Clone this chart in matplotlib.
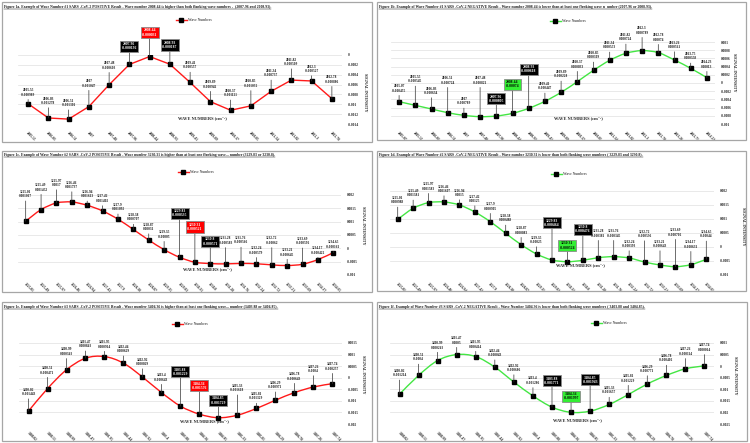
import numpy as np
import matplotlib
matplotlib.use('Agg')
import matplotlib.pyplot as plt
from matplotlib.lines import Line2D
from matplotlib.patches import Rectangle, PathPatch
from matplotlib.path import Path

plt.rcParams['font.family'] = ['Liberation Serif', 'DejaVu Serif']
plt.rcParams['font.weight'] = 'bold'

# ---------------- data ----------------
wave_1a = [2005.55, 2006.03, 2006.51, 2007, 2007.48, 2007.96, 2008.44, 2008.93,
           2009.41, 2009.89, 2010.37, 2010.85, 2011.34, 2011.82, 2012.3, 2012.78]
intensity_1a = [-0.000989, -0.001278, -0.001301, -0.001047, -0.000603, -0.000192,
                -0.000031, -0.000187, -0.000557, -0.000946, -0.001121, -0.001032,
                -0.000737, -0.000509, -0.000527, -0.000886]

wave_1b = [2005.07, 2005.55, 2006.03, 2006.51, 2007, 2007.48, 2007.96, 2008.44,
           2008.93, 2009.41, 2009.89, 2010.37, 2010.85, 2011.34, 2011.82, 2012.3,
           2012.78, 2013.26, 2013.75, 2014.23]
intensity_1b = [-0.000455, -0.000545, -0.000634, -0.000724, -0.000789, -0.000821,
                -0.000805, -0.00074, -0.000618, -0.000447, -0.000228, 0.000033,
                0.000309, 0.000553, 0.000724, 0.000789, 0.00074, 0.000561,
                0.000358, 0.00013]

wave_2 = [3225.01, 3225.49, 3225.97, 3226.46, 3226.94, 3227.42, 3227.9, 3228.38,
          3228.87, 3229.35, 3229.83, 3230.31, 3230.8, 3231.28, 3231.76, 3232.24,
          3232.72, 3233.21, 3233.69, 3234.17, 3234.65]
intensity_1c = [0.001017, 0.001452, 0.0017, 0.001737, 0.001613, 0.001402, 0.001092,
                0.000707, 0.00031, -0.00005, -0.000335, -0.000521, -0.000571,
                -0.000583, -0.000566, -0.000579, -0.00062, -0.000645, -0.000596,
                -0.000422, -0.000161]
intensity_1d = [0.000988, 0.001381, 0.001583, 0.001607, 0.0015, 0.00125, 0.000905,
                0.000488, 0.000083, -0.00025, -0.000464, -0.000524, -0.000476,
                -0.000381, -0.000345, -0.000393, -0.000536, -0.000643, -0.000702,
                -0.000631, -0.00044]

wave_3 = [3400.02, 3400.51, 3400.99, 3401.47, 3401.95, 3402.44, 3402.92, 3403.4,
          3403.88, 3404.36, 3404.85, 3405.33, 3405.81, 3406.29, 3406.78, 3407.26,
          3407.74]
intensity_1e = [-0.001443, -0.000471, 0.000343, 0.000843, 0.000914, 0.000629,
                0.000029, -0.000643, -0.001229, -0.001576, -0.001729, -0.001618,
                -0.001329, -0.000971, -0.000643, -0.0004, -0.000257]
intensity_1f = [-0.001214, -0.0004, 0.000243, 0.0005, 0.000414, -0.000043,
                -0.000686, -0.001286, -0.001771, -0.001997, -0.001943, -0.001657,
                -0.001229, -0.000771, -0.000402, -0.000114, 0.000014]

titles = [
    "Figure 1a. Example of Wave Number #1 SARS -CoV-2 POSITIVE Result - Wave number 2008.44 is higher than both flanking wave numbers -  (2007.96 and 2008.93).",
    "Figure 1b. Example of Wave Number #1 SARS -CoV-2 NEGATIVE Result - Wave number 2008.44 is lower than at least one flanking wave n  umber (2007.96 or 2008.93).",
    "Figure 1c. Example of Wave Number #2 SARS -CoV-2 POSITIVE Result - Wave number 3230.31 is higher than at least one flanking wave... number (3229.83 or 3230.8).",
    "Figure 1d. Example of Wave Number #2 SARS -CoV-2 NEGATIVE Result - Wave number 3230.31 is lower than both flanking wave numbers ( 3229.83 and 3230.8).",
    "Figure 1e. Example of Wave Number #3 SARS -CoV-2 POSITIVE Result - Wave number 3404.36 is higher than at least one flanking wave... number (3403.88 or 3404.85).",
    "Figure 1f. Example of Wave Number #3 SARS -CoV-2 NEGATIVE Result - Wave Number 3404.36 is lower than both flanking wave numbers ( 3403.88 and 3404.85).",
]
yticks_list = [
    [0, -0.0002, -0.0004, -0.0006, -0.0008, -0.001, -0.0012, -0.0014],
    [0.001, 0.0008, 0.0006, 0.0004, 0.0002, 0, -0.0002, -0.0004, -0.0006, -0.0008, -0.001],
    [0.002, 0.0015, 0.001, 0.0005, 0, -0.0005, -0.001],
    [0.002, 0.0015, 0.001, 0.0005, 0, -0.0005, -0.001],
    [0.0015, 0.001, 0.0005, 0, -0.0005, -0.001, -0.0015, -0.002],
    [0.001, 0.0005, 0, -0.0005, -0.001, -0.0015, -0.002, -0.0025],
]

# ---------------- layout (pixels, origin top-left) ----------------
W, H = 750, 443
RED, GREEN = '#ff1a1a', '#44e644'

panels = [
    dict(wave=wave_1a, val=intensity_1a, color=RED, smooth=False,
         frame=(2, 2, 372, 142), plot=(18, 55, 342, 124), legend=(194, 20),
         xlab=(202, 118), ylab=(365, 92), title=(4, 7),
         boxes={5: 'black', 6: 'red', 7: 'black'},
         lifts=[7, 13, 12, 19, 15, 12, 18, 13, 13, 13, 13, 18, 14, 14, 8, 15]),
    dict(wave=wave_1b, val=intensity_1b, color=GREEN, smooth=True,
         frame=(377, 2, 746, 140), plot=(391, 42, 715, 124), legend=(568, 21),
         xlab=(578, 118), ylab=(734, 72), title=(379, 7),
         boxes={6: 'black', 7: 'green', 8: 'black'},
         lifts=[9, 22, 14, 28, 10, 32, 11, 23, 33, 11, 14, 13, 11, 11, 12, 16, 11, 11, 8, 9]),
    dict(wave=wave_2, val=intensity_1c, color=RED, smooth=True,
         frame=(2, 151, 372, 292), plot=(18, 195, 341, 275), legend=(196, 172),
         xlab=(207, 269), ylab=(363, 225), title=(4, 155),
         boxes={10: 'black', 11: 'red', 12: 'black'},
         lifts=[23, 18, 16, 13, 7, 8, 8, 8, 9, 11, 38, 29, 16, 19, 19, 9, 20, 9, 19, 5, 4]),
    dict(wave=wave_2, val=intensity_1d, color=GREEN, smooth=True,
         frame=(377, 151, 746, 291), plot=(390, 191, 714, 275), legend=(569, 174),
         xlab=(580, 265), ylab=(743, 226), title=(379, 155),
         boxes={10: 'black', 11: 'green', 12: 'black'},
         lifts=[15, 11, 12, 9, 8, 9, 11, 11, 10, 10, 31, 10, 25, 20, 19, 10, 24, 17, 30, 16, 21]),
    dict(wave=wave_3, val=intensity_1e, color=RED, smooth=True,
         frame=(2, 302, 372, 441), plot=(19, 343, 342, 424), legend=(190, 324),
         xlab=(204, 421), ylab=(363, 374), title=(4, 307),
         boxes={8: 'black', 9: 'red', 10: 'black'},
         lifts=[15, 14, 14, 10, 8, 10, 11, 11, 28, 22, 11, 23, 8, 11, 12, 14, 13]),
    dict(wave=wave_3, val=intensity_1f, color=GREEN, smooth=True,
         frame=(377, 302, 747, 441), plot=(390, 343, 714, 424), legend=(609, 323),
         xlab=(577, 420), ylab=(735, 375), title=(379, 307),
         boxes={8: 'black', 9: 'green', 10: 'black'},
         lifts=[17, 14, 11, 10, 8, 10, 10, 11, 20, 10, 25, 10, 12, 11, 13, 13, 14]),
]

box_style = {'black': ('#000000', 'white'), 'red': ('#ff0000', 'white'),
             'green': ('#33ee33', 'black')}


def fx(x):
    return x / W


def fy(y):
    return 1 - y / H


def smooth_path(x, y):
    # Excel-like smoothed line: cubic Bezier through the points
    x = np.asarray(x, float)
    y = np.asarray(y, float)
    px = np.r_[x[0], x, x[-1]]
    py = np.r_[y[0], y, y[-1]]
    verts = [(x[0], y[0])]
    codes = [Path.MOVETO]
    for i in range(len(x) - 1):
        c1 = (x[i] + (px[i + 2] - px[i]) / 6, y[i] + (py[i + 2] - py[i]) / 6)
        c2 = (x[i + 1] - (px[i + 3] - px[i + 1]) / 6, y[i + 1] - (py[i + 3] - py[i + 1]) / 6)
        verts += [c1, c2, (x[i + 1], y[i + 1])]
        codes += [Path.CURVE4] * 3
    return Path(verts, codes)


def fmt(v):
    return np.format_float_positional(v, precision=6, trim='-')


fig = plt.figure(figsize=(7.5, 4.43), dpi=100)
fig.patch.set_facecolor('white')

title_texts = []
for p, title, yticks in zip(panels, titles, yticks_list):
    x0, y0, x1, y1 = p['frame']
    fig.add_artist(Rectangle((fx(x0), fy(y1)), (x1 - x0) / W, (y1 - y0) / H,
                             transform=fig.transFigure, fill=False,
                             ec='#a6a6a6', lw=0.9))
    t = fig.text(fx(p['title'][0]), fy(p['title'][1]), title, fontsize=2.7,
                 ha='left', va='center', color='#1a1a1a')
    title_texts.append(t)

    a0, b0, a1, b1 = p['plot']
    ax = fig.add_axes([fx(a0), fy(b1), (a1 - a0) / W, (b1 - b0) / H])
    n = len(p['wave'])
    xs = np.arange(n)
    vals = np.asarray(p['val'])

    ax.set_xlim(-0.5, n - 0.5)
    ax.set_ylim(min(yticks), max(yticks))
    ax.set_yticks(yticks)
    ax.set_yticklabels([f"{v:g}" for v in yticks])
    ax.yaxis.tick_right()
    ax.tick_params(axis='y', length=0, pad=4, labelsize=2.6, labelcolor='#262626')
    ax.set_xticks(xs)
    ax.set_xticklabels([f"{w:g}" for w in p['wave']], rotation=-45,
                       ha='left', va='top', rotation_mode='anchor')
    ax.tick_params(axis='x', length=0, pad=5, labelsize=2.6, labelcolor='#262626')
    ax.grid(axis='y', color='#e0e0e0', lw=0.5)
    ax.set_axisbelow(True)
    for s in ax.spines.values():
        s.set_visible(False)

    if p['smooth']:
        ax.add_patch(PathPatch(smooth_path(xs, vals), fill=False,
                               ec=p['color'], lw=1.0, zorder=2))
    else:
        ax.plot(xs, vals, color=p['color'], lw=1.0, zorder=2)
    ax.plot(xs, vals, ls='none', marker='s', ms=2.2, color='black', zorder=3)

    for i in range(n):
        label = f"{p['wave'][i]:g}\n{fmt(vals[i])}"
        kw = dict(fontsize=2.5, ha='center', va='bottom', linespacing=1.15,
                  annotation_clip=False, zorder=4,
                  arrowprops=dict(arrowstyle='-', lw=0.5, color='#333333',
                                  shrinkA=0, shrinkB=0))
        lift = p['lifts'][i]
        if i in p['boxes']:
            fc, tc = box_style[p['boxes'][i]]
            kw['bbox'] = dict(boxstyle='square,pad=0.35', fc=fc, ec='#8c8c8c', lw=0.6)
            kw['color'] = tc
            kw['fontsize'] = 2.7
            lift += 2
        else:
            kw['color'] = '#1a1a1a'
        ax.annotate(label, xy=(i, vals[i]), xytext=(0, lift),
                    textcoords='offset pixels', **kw)

    fig.text(fx(p['xlab'][0]), fy(p['xlab'][1]), "WAVE NUMBERS (cm\u207b\u00b9)",
             fontsize=3.2, ha='center', va='center', color='#262626')
    fig.text(fx(p['ylab'][0]), fy(p['ylab'][1]), "SIGNAL INTENSITY",
             fontsize=3.0, ha='center', va='center', rotation=270, color='#262626')

    handle = Line2D([], [], color=p['color'], lw=1.0, marker='s', ms=2.2,
                    mfc='black', mec='black')
    fig.legend([handle], ['Wave Numbers'], loc='center',
               bbox_to_anchor=(fx(p['legend'][0]), fy(p['legend'][1])),
               frameon=False, fontsize=2.6, handlelength=3, handletextpad=0.4,
               labelcolor='#595959')

# underline the titles
fig.canvas.draw()
renderer = fig.canvas.get_renderer()
inv = fig.transFigure.inverted()
for t in title_texts:
    bb = t.get_window_extent(renderer).transformed(inv)
    fig.add_artist(Line2D([bb.x0, bb.x1], [bb.y0 + 0.001, bb.y0 + 0.001],
                          transform=fig.transFigure, color='#1a1a1a', lw=0.35))

fig.savefig('out.png', dpi=100, facecolor='white')
